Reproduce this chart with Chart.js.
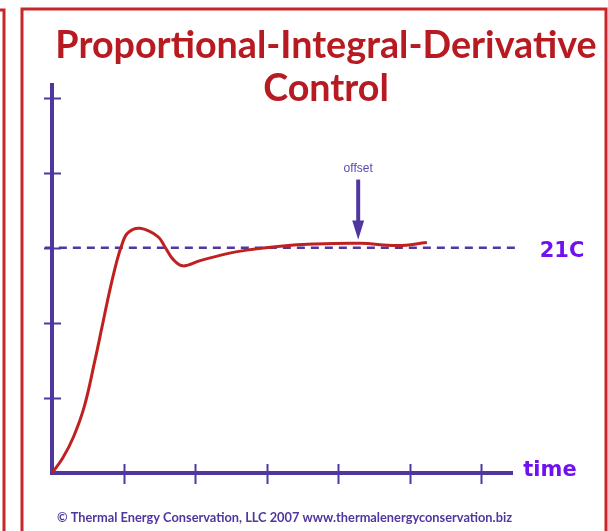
<!DOCTYPE html>
<html>
<head>
<meta charset="utf-8">
<script src="https://cdn.jsdelivr.net/npm/chart.js@4.4.0/dist/chart.umd.min.js"></script>
<style>
html, body { margin: 0; padding: 0; background: #fff; }
#wrap { width: 608px; height: 531px; }
</style>
</head>
<body>
<div id="wrap"><canvas id="pid"></canvas></div>
<script>
// response curve (time in tick units, level in tick units)
var timeValues  = [0, 0.15, 0.30, 0.45, 0.60, 0.70, 0.80, 0.90, 0.98, 1.06, 1.23, 1.48, 1.58, 1.69, 1.83, 2.07, 2.31, 2.59, 3.19, 3.65, 4.31, 4.83, 5.24];
var levelValues = [0, 0.20, 0.48, 0.88, 1.50, 1.95, 2.40, 2.80, 3.05, 3.20, 3.26, 3.15, 3.01, 2.85, 2.76, 2.83, 2.89, 2.95, 3.02, 3.05, 3.06, 3.03, 3.07];

var setpointLevel = 3;
var setpointLabel = '21C';
var xTicks = [1, 2, 3, 4, 5, 6];
var yTicks = [1, 2, 3, 4, 5];
var axisLabel = 'time';
var offsetLabel = 'offset';
var offsetAt = 4.28;
var titleLines = ['Proportional-Integral-Derivative', 'Control'];
var footerText = '\u00a9 Thermal Energy Conservation, LLC 2007 www.thermalenergyconservation.biz';

var PURPLE = '#4f379f';
var RED = '#c0201f';
var VIOLET = '#7012f0';

var curvePoints = timeValues.map(function (t, i) {
    return { x: t, y: levelValues[i] };
});

// font size that makes the text span a given width
function fitSize(ctx, text, font, width) {
    ctx.font = font.replace('SIZE', '100px');
    return 100 * width / ctx.measureText(text).width;
}

var decor = {
    id: 'decor',
    beforeDraw: function (chart) {
        var ctx = chart.ctx;
        ctx.save();
        ctx.fillStyle = '#fff';
        ctx.fillRect(0, 0, chart.width, chart.height);
        ctx.strokeStyle = '#c8262b';
        ctx.lineWidth = 3;
        // neighbour panel edge on the left
        ctx.beginPath();
        ctx.moveTo(0, 10);
        ctx.lineTo(4, 10);
        ctx.lineTo(4, chart.height + 5);
        ctx.stroke();
        // panel frame
        ctx.strokeRect(22, 9, 584, chart.height + 10);
        ctx.restore();
    },
    afterDraw: function (chart) {
        var ctx = chart.ctx;
        var xs = chart.scales.x, ys = chart.scales.y;
        var x0 = xs.getPixelForValue(0), y0 = ys.getPixelForValue(0);
        ctx.save();

        // tick marks crossing the axes
        ctx.strokeStyle = PURPLE;
        ctx.lineWidth = 2;
        xTicks.forEach(function (t) {
            var px = Math.round(xs.getPixelForValue(t)) + 0.5;
            ctx.beginPath();
            ctx.moveTo(px, y0 - 9);
            ctx.lineTo(px, y0 + 11);
            ctx.stroke();
        });
        yTicks.forEach(function (v) {
            var py = Math.round(ys.getPixelForValue(v)) + 0.5;
            ctx.beginPath();
            ctx.moveTo(x0 - 8, py);
            ctx.lineTo(x0 + 9, py);
            ctx.stroke();
        });

        // offset arrow
        var ax = xs.getPixelForValue(offsetAt);
        var tip = ys.getPixelForValue(3.11);
        ctx.lineWidth = 4;
        ctx.beginPath();
        ctx.moveTo(ax, ys.getPixelForValue(3.91));
        ctx.lineTo(ax, tip - 14);
        ctx.stroke();
        ctx.fillStyle = PURPLE;
        ctx.beginPath();
        ctx.moveTo(ax - 6, tip - 19);
        ctx.lineTo(ax + 6, tip - 19);
        ctx.lineTo(ax, tip);
        ctx.closePath();
        ctx.fill();

        ctx.fillStyle = '#5b4bab';
        ctx.font = '12px "Liberation Sans", Arial, sans-serif';
        ctx.textAlign = 'center';
        ctx.textBaseline = 'middle';
        ctx.fillText(offsetLabel, ax, ys.getPixelForValue(3.91) - 11);

        // setpoint and axis labels
        ctx.fillStyle = VIOLET;
        ctx.font = 'bold 21px "DejaVu Sans", sans-serif';
        ctx.fillText(setpointLabel, xs.right + 50, ys.getPixelForValue(setpointLevel) + 4);
        ctx.fillText(axisLabel, xs.right + 38, y0 - 2);

        // title
        var tf = 'bold SIZE Lato, "Open Sans", sans-serif';
        var ts = fitSize(ctx, titleLines[0], tf, 542);
        ctx.font = tf.replace('SIZE', ts.toFixed(1) + 'px');
        ctx.fillStyle = '#b71a20';
        ctx.textBaseline = 'alphabetic';
        ctx.fillText(titleLines[0], 326, 58);
        ctx.fillText(titleLines[1], 326, 101);

        // footer
        var ff = 'bold SIZE Lato, "Open Sans", sans-serif';
        var fs = fitSize(ctx, footerText, ff, 455);
        ctx.font = ff.replace('SIZE', fs.toFixed(1) + 'px');
        ctx.fillStyle = PURPLE;
        ctx.fillText(footerText, 284.5, 522);

        ctx.restore();
    }
};

var chart = new Chart(document.getElementById('pid'), {
    type: 'line',
    data: {
        datasets: [{
            label: 'response',
            data: curvePoints,
            borderColor: RED,
            borderWidth: 3,
            pointRadius: 0,
            tension: 0.4,
            fill: false,
            clip: false,
            order: 0
        }, {
            label: 'setpoint',
            data: [{ x: -0.1, y: setpointLevel }, { x: 6.52, y: setpointLevel }],
            borderColor: PURPLE,
            borderWidth: 2.5,
            borderDash: [8, 6],
            pointRadius: 0,
            fill: false,
            clip: false,
            order: 1
        }]
    },
    options: {
        responsive: true,
        maintainAspectRatio: false,
        animation: false,
        layout: {
            padding: { left: 52, right: 96, top: 85, bottom: 58 }
        },
        plugins: {
            legend: { display: false },
            tooltip: { enabled: false },
            title: { display: false }
        },
        scales: {
            x: {
                type: 'linear',
                min: 0,
                max: 6.43,
                ticks: { display: false, stepSize: 1 },
                grid: { drawOnChartArea: false, drawTicks: false },
                border: { display: true, color: PURPLE, width: 4 }
            },
            y: {
                min: 0,
                max: 5.17,
                ticks: { display: false, stepSize: 1 },
                grid: { drawOnChartArea: false, drawTicks: false },
                border: { display: true, color: PURPLE, width: 4 }
            }
        }
    },
    plugins: [decor]
});
</script>
</body>
</html>
